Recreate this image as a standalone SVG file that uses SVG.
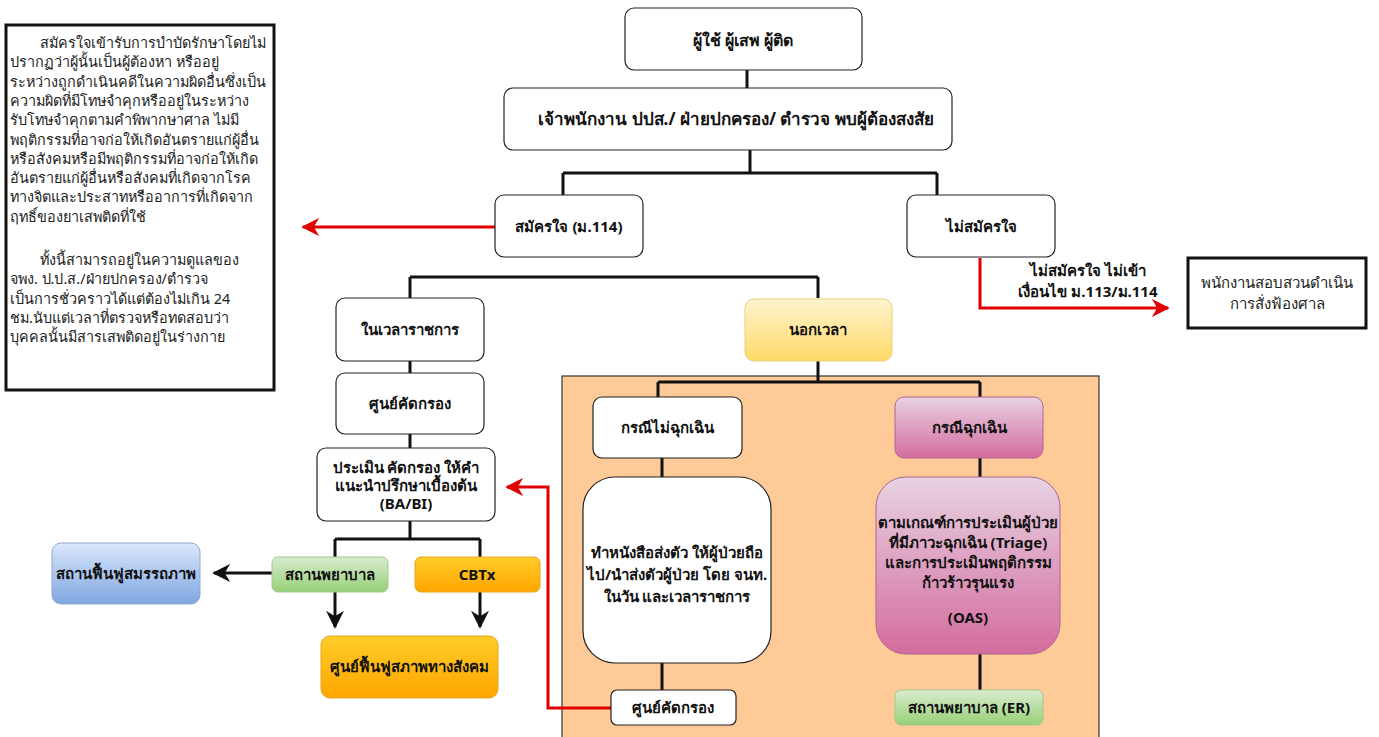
<svg xmlns="http://www.w3.org/2000/svg" width="1379" height="737" viewBox="0 0 1379 737">
<defs>
<style>
.n{fill:#fff;stroke:#222;stroke-width:1.2}
.t{font-family:"Noto Sans","DejaVu Sans","Liberation Sans",sans-serif;font-size:15px;font-weight:bold;fill:#111;text-anchor:middle}
.p{font-family:"Noto Sans","DejaVu Sans","Liberation Sans",sans-serif;font-size:15px;fill:#222}
.q{font-family:"Noto Sans","DejaVu Sans","Liberation Sans",sans-serif;font-size:14.4px;fill:#222}
.c{fill:none;stroke:#111;stroke-width:3}
.r{fill:none;stroke:#e00000;stroke-width:3}
</style>
<linearGradient id="gy" x1="0" y1="0" x2="0" y2="1"><stop offset="0" stop-color="#fff4d0"/><stop offset="1" stop-color="#ffd966"/></linearGradient>
<linearGradient id="gp" x1="0" y1="0" x2="0" y2="1"><stop offset="0" stop-color="#e8d2e2"/><stop offset="1" stop-color="#d46c9e"/></linearGradient>
<linearGradient id="gg" x1="0" y1="0" x2="0" y2="1"><stop offset="0" stop-color="#d9eccf"/><stop offset="1" stop-color="#97d077"/></linearGradient>
<linearGradient id="gb" x1="0" y1="0" x2="0" y2="1"><stop offset="0" stop-color="#dae8fc"/><stop offset="1" stop-color="#7ea6e0"/></linearGradient>
<linearGradient id="go" x1="0" y1="0" x2="0" y2="1"><stop offset="0" stop-color="#ffcd28"/><stop offset="1" stop-color="#ffa500"/></linearGradient>
<marker id="ab" viewBox="0 0 10 10" refX="9" refY="5" markerWidth="6" markerHeight="6" orient="auto" markerUnits="strokeWidth"><path d="M0,0 L10,5 L0,10 L3,5 Z" fill="#111"/></marker>
<marker id="ar" viewBox="0 0 10 10" refX="9" refY="5" markerWidth="6" markerHeight="6" orient="auto" markerUnits="strokeWidth"><path d="M0,0 L10,5 L0,10 L3,5 Z" fill="#e00000"/></marker>
</defs>
<rect width="1379" height="737" fill="#fff"/>

<g id="region-offhours">
<rect x="562" y="376" width="537" height="365" fill="#fecb98" stroke="#333" stroke-width="1.2"/>
</g>

<g id="connectors">
<path class="c" d="M747,70 V88"/>
<path class="c" d="M750,150 V173 M563,173 H937 M563,173 V195 M937,173 V195"/>
<path class="r" d="M495,227 H303" marker-end="url(#ar)"/>
<path class="r" d="M980,258 V308 H1168" marker-end="url(#ar)"/>
<path class="c" d="M410,277 H818 M410,277 V298 M818,277 V298"/>
<path class="c" d="M410,361 V373 M410,434 V448 M410,521 V539 M335,539 H480 M335,539 V557 M480,539 V557"/>
<path class="c" d="M272,573 H214" marker-end="url(#ab)"/>
<path class="c" d="M335,592 V627" marker-end="url(#ab)"/>
<path class="c" d="M480,592 V627" marker-end="url(#ab)"/>
<path class="c" d="M818,361 V382 M658,382 H980 M658,382 V397 M980,382 V397"/>
<path class="c" d="M662,458 V477 M662,663 V690"/>
<path class="c" d="M980,458 V477 M980,654 V690"/>
<path class="r" d="M611,708 H548 V487 H507" marker-end="url(#ar)"/>
</g>

<g id="note-left">
<rect x="6" y="25" width="268" height="365" fill="#fff" stroke="#111" stroke-width="3"/>
<text class="q" x="12" y="48"><tspan x="40">สมัครใจเข้ารับการบำบัดรักษาโดยไม่</tspan><tspan x="10" dy="19.3">ปรากฏว่าผู้นั้นเป็นผู้ต้องหา หรืออยู่</tspan><tspan x="10" dy="19.3">ระหว่างถูกดำเนินคดีในความผิดอื่นซึ่งเป็น</tspan><tspan x="10" dy="19.3">ความผิดที่มีโทษจำคุกหรืออยู่ในระหว่าง</tspan><tspan x="10" dy="19.3">รับโทษจำคุกตามคำพิพากษาศาล ไม่มี</tspan><tspan x="10" dy="19.3">พฤติกรรมที่อาจก่อให้เกิดอันตรายแก่ผู้อื่น</tspan><tspan x="10" dy="19.3">หรือสังคมหรือมีพฤติกรรมที่อาจก่อให้เกิด</tspan><tspan x="10" dy="19.3">อันตรายแก่ผู้อื่นหรือสังคมที่เกิดจากโรค</tspan><tspan x="10" dy="19.3">ทางจิตและประสาทหรืออาการที่เกิดจาก</tspan><tspan x="10" dy="19.3">ฤทธิ์ของยาเสพติดที่ใช้</tspan></text>
<text class="q" x="40" y="265"><tspan x="40">ทั้งนี้สามารถอยู่ในความดูแลของ</tspan><tspan x="10" dy="19.3">จพง.  ป.ป.ส./ฝ่ายปกครอง/ตำรวจ</tspan><tspan x="10" dy="19.3">เป็นการชั่วคราวได้แต่ต้องไม่เกิน 24</tspan><tspan x="10" dy="19.3">ชม.นับแต่เวลาที่ตรวจหรือทดสอบว่า</tspan><tspan x="10" dy="19.3">บุคคลนั้นมีสารเสพติดอยู่ในร่างกาย</tspan></text>
</g>

<g id="n-users"><rect class="n" x="625" y="8" width="237" height="62" rx="9"/><text class="t" x="743" y="46" style="font-size:16px">ผู้ใช้ ผู้เสพ ผู้ติด</text></g>
<g id="n-officer"><rect class="n" x="504" y="88" width="448" height="62" rx="9"/><text class="t" x="736" y="125" style="font-size:17px">เจ้าพนักงาน ปปส./ ฝ่ายปกครอง/ ตำรวจ พบผู้ต้องสงสัย</text></g>
<g id="n-volunteer"><rect class="n" x="495" y="195" width="148" height="62" rx="9"/><text class="t" x="569" y="232">สมัครใจ (ม.114)</text></g>
<g id="n-notvolunteer"><rect class="n" x="907" y="195" width="148" height="62" rx="9"/><text class="t" x="981" y="232">ไม่สมัครใจ</text></g>
<g id="lbl-notvolunteer"><text class="t" x="1088" y="276">ไม่สมัครใจ ไม่เข้า</text><text class="t" x="1088" y="297">เงื่อนไข ม.113/ม.114</text></g>
<g id="n-prosecute"><rect x="1188" y="258" width="178" height="70" fill="#fff" stroke="#111" stroke-width="3"/><text class="p" x="1277" y="288" text-anchor="middle">พนักงานสอบสวนดำเนิน</text><text class="p" x="1277" y="309" text-anchor="middle">การสั่งฟ้องศาล</text></g>

<g id="n-officehours"><rect class="n" x="336" y="298" width="148" height="63" rx="9"/><text class="t" x="410" y="335">ในเวลาราชการ</text></g>
<g id="n-screen1"><rect class="n" x="336" y="373" width="148" height="61" rx="9"/><text class="t" x="410" y="409">ศูนย์คัดกรอง</text></g>
<g id="n-assess"><rect class="n" x="317" y="448" width="178" height="73" rx="9"/><text class="t" x="406" y="473">ประเมิน คัดกรอง ให้คำ</text><text class="t" x="406" y="491">แนะนำปรึกษาเบื้องต้น</text><text class="t" x="406" y="509">(BA/BI)</text></g>
<g id="n-hospital"><rect x="272" y="557" width="116" height="35" rx="6" fill="url(#gg)" stroke="#9fc98a" stroke-width="1"/><text class="t" x="330" y="580">สถานพยาบาล</text></g>
<g id="n-cbtx"><rect x="415" y="557" width="125" height="35" rx="6" fill="url(#go)" stroke="#e6a521" stroke-width="1"/><text class="t" x="477" y="580">CBTx</text></g>
<g id="n-rehab"><rect x="52" y="543" width="148" height="61" rx="9" fill="url(#gb)" stroke="#8fa9cf" stroke-width="1"/><text class="t" x="126" y="579">สถานฟื้นฟูสมรรถภาพ</text></g>
<g id="n-social"><rect x="321" y="636" width="177" height="62" rx="9" fill="url(#go)" stroke="#e6a521" stroke-width="1"/><text class="t" x="409" y="672">ศูนย์ฟื้นฟูสภาพทางสังคม</text></g>

<g id="n-offhours"><rect x="745" y="299" width="147" height="62" rx="9" fill="url(#gy)" stroke="#e8cf7a" stroke-width="1"/><text class="t" x="818" y="335">นอกเวลา</text></g>
<g id="n-nonemerg"><rect class="n" x="593" y="397" width="149" height="61" rx="9"/><text class="t" x="667" y="433">กรณีไม่ฉุกเฉิน</text></g>
<g id="n-refer"><rect class="n" x="583" y="477" width="188" height="186" rx="32"/><text class="t" x="677" y="558">ทำหนังสือส่งตัว ให้ผู้ป่วยถือ</text><text class="t" x="677" y="580">ไป/นำส่งตัวผู้ป่วย โดย จนท.</text><text class="t" x="677" y="602">ในวัน และเวลาราชการ</text></g>
<g id="n-screen2"><rect class="n" x="611" y="690" width="125" height="35" rx="6"/><text class="t" x="673" y="713">ศูนย์คัดกรอง</text></g>
<g id="n-emerg"><rect x="895" y="397" width="148" height="61" rx="9" fill="url(#gp)" stroke="#b0658c" stroke-width="1"/><text class="t" x="969" y="433">กรณีฉุกเฉิน</text></g>
<g id="n-triage"><rect x="876" y="477" width="184" height="177" rx="30" fill="url(#gp)" stroke="#b0658c" stroke-width="1"/><text class="t" x="968" y="528">ตามเกณฑ์การประเมินผู้ป่วย</text><text class="t" x="968" y="548">ที่มีภาวะฉุกเฉิน (Triage)</text><text class="t" x="968" y="568">และการประเมินพฤติกรรม</text><text class="t" x="968" y="588">ก้าวร้าวรุนแรง</text><text class="t" x="968" y="623">(OAS)</text></g>
<g id="n-er"><rect x="895" y="690" width="148" height="35" rx="6" fill="url(#gg)" stroke="#9fc98a" stroke-width="1"/><text class="t" x="969" y="713">สถานพยาบาล (ER)</text></g>
</svg>
